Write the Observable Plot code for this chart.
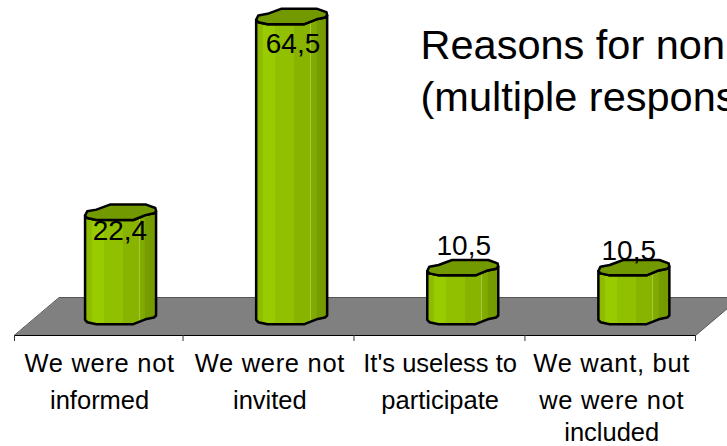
<!DOCTYPE html>
<html><head><meta charset="utf-8">
<script src="https://cdn.jsdelivr.net/npm/d3@7"></script>
<script src="https://cdn.jsdelivr.net/npm/@observablehq/plot@0.6"></script>
<style>html,body{margin:0;padding:0;background:#fff;overflow:hidden}svg{display:block}</style>
</head><body><div id="chart"></div>
<script>
const categoryLines = [
  ["We were not", "informed"],
  ["We were not", "invited"],
  ["It's useless to", "participate"],
  ["We want, but", "we were not", "included"]
];
const values = [22.4, 64.5, 10.5, 10.5];
const valueLabels = ["22,4", "64,5", "10,5", "10,5"];
const titleLines = ["Reasons for non", "(multiple respons"];

// layout helpers (not data)
const pxPerUnit = 300 / 64.5;
const barCenters = [0.623, 1.628, 2.633, 3.638];
const barHalf = 35.5 / 170.25;
const tickPositions = [0, 0.99, 1.994, 2.998, 4];
const frontEdge = [[0,3.3],[0.03,5.7],[0.16,7.7],[0.68,7.7],[0.85,2.8],[0.97,1],[1,-1]];
const backEdge = [[0.99,-4.3],[0.86,-7.7],[0.35,-7.7],[0.16,-2.7],[0.03,-1]];
const labelOffsets = [[-0.004,19],[0.008,28],[0.006,-22],[-0.03,-17]];
const rows = values.map((v,i)=>({i,v,cx:barCenters[i]}));
const pt = (r,f,dyPx,base) => ({bar:r.i, x:r.cx+(f-0.5)*2*barHalf, y:base-dyPx/pxPerUnit});
const bodyPts = rows.flatMap(r=>[
  ...frontEdge.map(([f,d])=>pt(r,f,d,0)),
  ...[...frontEdge].reverse().map(([f,d])=>pt(r,f,d,r.v))
]);
const capPts = rows.flatMap(r=>[...frontEdge,...backEdge].map(([f,d])=>pt(r,f,d,r.v)));
const floorPts = [[0,335],[4,335],[4.264,297],[0.264,297]].map(([x,py])=>({x,y:(316-py)/pxPerUnit}));
const frontY = floorPts[0].y;
const tickBottom = frontY - 6/pxPerUnit;
const labelRows = categoryLines.flatMap((ls,i)=>ls.map((t,j)=>({t,x:i+0.5+(i===3?0.008:0),j})));
const lineTops = [363, 400, 432];
const stops = [[0,"#8ab600"],[0.1,"#90c000"],[0.1,"#99cc00"],[0.26,"#99cc00"],[0.26,"#90c000"],[0.53,"#90c000"],[0.53,"#88b400"],[0.76,"#88b400"],[0.76,"#a4c840"],[0.772,"#a4c840"],[0.772,"#82ad00"],[0.85,"#7ea800"],[0.85,"#769d00"],[1,"#739900"]];

const defs = () => {
  const s = d3.create("svg:defs");
  const g = s.append("linearGradient").attr("id","barFill").attr("x1",0).attr("x2",1).attr("y1",0).attr("y2",0);
  stops.forEach(([o,c])=>g.append("stop").attr("offset",o).attr("stop-color",c));
  return s.node();
};
// places each text of a mark at the pixel offset given for its row
const place = (fn) => function(index,scales,vals,dims,ctx,next){
  const g = next(index,scales,vals,dims,ctx);
  d3.select(g).selectAll("text").each(function(_,k){ fn(d3.select(this), index[k], vals); });
  return g;
};

const chart = Plot.plot({
  width:727, height:446, margin:0,
  style:{fontFamily:"'Liberation Sans',Arial,sans-serif",background:"#fff",color:"#000",overflow:"hidden"},
  x:{domain:[0,4],range:[14,695],axis:null},
  y:{domain:[0,64.5],range:[316,16],axis:null},
  marks:[
    defs,
    Plot.line(floorPts,{x:"x",y:"y",curve:"linear-closed",fill:"#808080",stroke:"#555",strokeWidth:1}),
    Plot.ruleY([frontY],{x1:0,x2:4,stroke:"#000",strokeWidth:1}),
    Plot.ruleX(tickPositions,{y1:frontY,y2:tickBottom,stroke:"#333",strokeWidth:1}),
    Plot.line(bodyPts,{x:"x",y:"y",z:"bar",curve:"linear-closed",fill:"url(#barFill)",stroke:"#000",strokeWidth:2.5,strokeLinejoin:"round"}),
    Plot.line(capPts,{x:"x",y:"y",z:"bar",curve:"linear-closed",fill:"#739900",stroke:"#000",strokeWidth:2.5,strokeLinejoin:"round"}),
    Plot.text(rows,{x:d=>d.cx+labelOffsets[d.i][0],y:"v",text:d=>valueLabels[d.i],fontSize:28,fill:"#000",
      render:place((t,i,v)=>t.attr("transform",`translate(${v.x[i]},${v.y[i]+labelOffsets[i][1]})`))}),
    Plot.text(labelRows,{x:"x",frameAnchor:"top",lineAnchor:"middle",text:"t",fontSize:25.5,fill:"#000",
      render:place((t,i,v)=>t.attr("transform",`translate(${v.x[i]},${lineTops[labelRows[i].j]})`)
        .attr("letter-spacing",/^(we|We) w/.test(labelRows[i].t)?0.7:0))}),
    Plot.text(titleLines,{frameAnchor:"top-left",text:d=>d,fontSize:41.5,textAnchor:"start",lineAnchor:"middle",fill:"#000",
      render:place((t,i)=>t.attr("transform",`translate(420,${[45,97][i]})`))})
  ]
});
document.getElementById("chart").append(chart);
</script></body></html>
